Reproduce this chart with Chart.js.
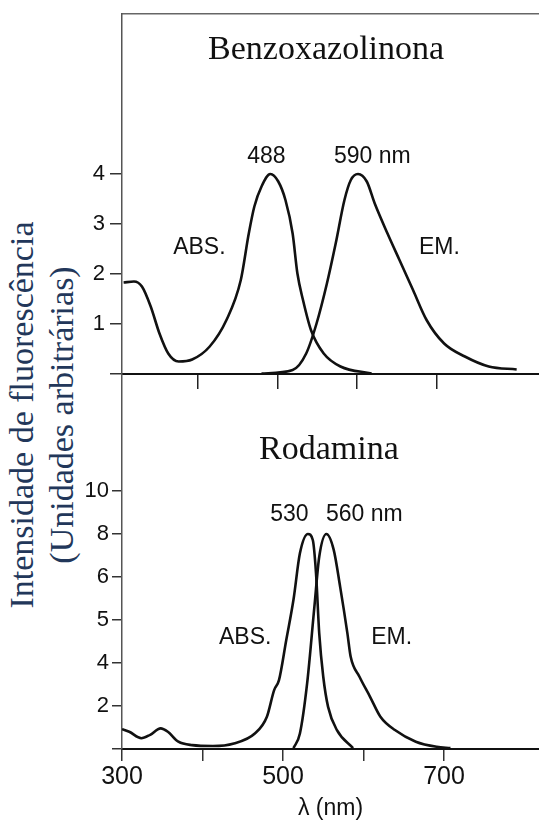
<!DOCTYPE html>
<html>
<head>
<meta charset="utf-8">
<script src="https://cdn.jsdelivr.net/npm/chart.js@4"></script>
<style>
  body { margin: 0; background: #fff; }
  #pagina { position: relative; width: 539px; height: 820px; overflow: hidden; }
  .caixa { position: absolute; left: 0; width: 539px; }
  #caixaBenzo { top: 0; height: 400px; }
  #caixaRoda { top: 374px; height: 446px; }
  #tituloY {
    position: absolute; left: -208px; top: 375px; width: 500px; height: 80px;
    transform: rotate(-90deg); text-align: center;
    font: 34px/40px "Liberation Serif", serif; color: #22375a; white-space: nowrap;
  }
</style>
</head>
<body>
<div id="pagina">
  <div id="tituloY">Intensidade de fluorescência<br>(Unidades arbitrárias)</div>
  <div class="caixa" id="caixaBenzo"><canvas id="graficoBenzo"></canvas></div>
  <div class="caixa" id="caixaRoda"><canvas id="graficoRoda"></canvas></div>
</div>
<script>
// Benzoxazolinona - absorção e emissão
const nmAbsBenzo = [307, 320, 330, 341, 352, 363, 376, 393, 415, 436, 454, 464, 471, 480, 491, 501, 510, 519, 525, 532, 542, 558, 579, 618];
const absBenzo   = [1.83, 1.85, 1.75, 1.35, 0.81, 0.41, 0.25, 0.29, 0.55, 1.08, 1.88, 2.81, 3.35, 3.75, 4.0, 3.85, 3.48, 2.81, 2.01, 1.48, 0.88, 0.41, 0.15, 0.01];
const nmEmBenzo  = [480, 519, 536, 549, 562, 573, 584, 592, 601, 612, 622, 638, 653, 670, 687, 709, 735, 765, 800];
const emBenzo    = [0.01, 0.08, 0.41, 1.01, 1.81, 2.61, 3.48, 3.88, 4.0, 3.85, 3.41, 2.81, 2.28, 1.68, 1.08, 0.61, 0.35, 0.15, 0.09];

// Rodamina (eixo y em passos de marca: 2,4,5,6,8,10 como na figura)
const nmAbsRoda = [300, 309, 324, 335, 348, 357, 370, 387, 413, 439, 465, 480, 489, 495, 504, 513, 521, 531, 537, 541, 545, 550, 556, 567, 587];
const absRoda   = [0.46, 0.40, 0.25, 0.33, 0.48, 0.40, 0.17, 0.09, 0.07, 0.13, 0.36, 0.75, 1.37, 1.60, 2.53, 3.47, 4.55, 5.0, 4.86, 4.09, 2.69, 1.68, 0.98, 0.44, 0.02];
const nmEmRoda  = [513, 521, 530, 539, 545, 554, 563, 571, 580, 584, 595, 608, 621, 639, 665, 691, 708];
const emRoda    = [0.02, 0.36, 1.53, 3.31, 4.47, 5.0, 4.63, 3.77, 2.69, 2.15, 1.68, 1.22, 0.75, 0.44, 0.17, 0.05, 0.02];

const marcasYBenzo = [0, 1, 2, 3, 4];
const marcasXBenzo = [400, 500, 600, 700];
const rotulosYRoda = ['2', '4', '5', '6', '8', '10'];
const marcasXRoda  = [300, 400, 500, 600, 700];
const rotulosXRoda = [300, 500, 700];

const SANS = '"Liberation Sans", Arial, sans-serif';
const SERIF = '"Liberation Serif", "Times New Roman", serif';

// textos dentro do grafico, em coordenadas de dados
const textosBenzo = [
  { texto: 'Benzoxazolinona', x: 561, y: 6.48, fonte: '34px ' + SERIF },
  { texto: '488', x: 486, y: 4.34, fonte: '23px ' + SANS },
  { texto: '590 nm', x: 619, y: 4.34, fonte: '23px ' + SANS },
  { texto: 'ABS.', x: 402, y: 2.52, fonte: '23px ' + SANS },
  { texto: 'EM.', x: 703, y: 2.52, fonte: '23px ' + SANS }
];
const textosRoda = [
  { texto: 'Rodamina', x: 557, y: 6.95, fonte: '34px ' + SERIF },
  { texto: '530', x: 508, y: 5.44, fonte: '23px ' + SANS },
  { texto: '560 nm', x: 601, y: 5.44, fonte: '23px ' + SANS },
  { texto: 'ABS.', x: 453, y: 2.60, fonte: '23px ' + SANS },
  { texto: 'EM.', x: 635, y: 2.60, fonte: '23px ' + SANS }
];

function pontos(xs, ys) {
  return xs.map((v, i) => ({ x: v, y: ys[i] }));
}

function pluginTextos(itens) {
  return {
    id: 'textos',
    afterDatasetsDraw(chart) {
      const { ctx, scales } = chart;
      ctx.save();
      ctx.fillStyle = '#111';
      ctx.textAlign = 'center';
      ctx.textBaseline = 'middle';
      itens.forEach(t => {
        ctx.font = t.fonte;
        ctx.fillText(t.texto, scales.x.getPixelForValue(t.x), scales.y.getPixelForValue(t.y));
      });
      ctx.restore();
    }
  };
}

function semPadding(scale) {
  scale.paddingTop = 0;
  scale.paddingBottom = 0;
  scale.paddingLeft = 0;
  scale.paddingRight = 0;
}

function linha(dados) {
  return {
    data: dados,
    borderColor: '#111',
    borderWidth: 2.6,
    pointRadius: 0,
    fill: false,
    cubicInterpolationMode: 'monotone'
  };
}

// painel de cima
new Chart(document.getElementById('graficoBenzo'), {
  type: 'line',
  data: {
    datasets: [linha(pontos(nmAbsBenzo, absBenzo)), linha(pontos(nmEmBenzo, emBenzo))]
  },
  options: {
    responsive: true,
    maintainAspectRatio: false,
    animation: false,
    layout: { padding: 0 },
    plugins: { legend: { display: false }, tooltip: { enabled: false } },
    scales: {
      x: {
        type: 'linear', min: 305, max: 828,
        border: { display: true, color: '#111', width: 2 },
        grid: { drawOnChartArea: false, tickLength: 15, color: '#222', lineWidth: 1.5 },
        ticks: { display: false },
        afterBuildTicks: ax => { ax.ticks = marcasXBenzo.map(v => ({ value: v })); },
        afterFit: ax => { ax.height = 26; semPadding(ax); }
      },
      xTopo: {
        type: 'linear', position: 'top',
        border: { display: true, color: '#666', width: 1.5 },
        grid: { display: false },
        ticks: { display: false },
        afterFit: ax => { ax.height = 14; semPadding(ax); }
      },
      y: {
        min: 0, max: 7.2,
        border: { display: true, color: '#555', width: 1.5 },
        grid: { drawOnChartArea: false, tickLength: 12, color: '#333', lineWidth: 1.5 },
        ticks: {
          autoSkip: false, padding: 5, color: '#111',
          font: { family: SANS, size: 22 },
          callback: v => v === 0 ? '' : String(v)
        },
        afterBuildTicks: ax => { ax.ticks = marcasYBenzo.map(v => ({ value: v })); },
        afterFit: ax => { ax.width = 122; semPadding(ax); }
      }
    }
  },
  plugins: [pluginTextos(textosBenzo)]
});

// painel de baixo
new Chart(document.getElementById('graficoRoda'), {
  type: 'line',
  data: {
    datasets: [linha(pontos(nmAbsRoda, absRoda)), linha(pontos(nmEmRoda, emRoda))]
  },
  options: {
    responsive: true,
    maintainAspectRatio: false,
    animation: false,
    layout: { padding: 0 },
    plugins: { legend: { display: false }, tooltip: { enabled: false } },
    scales: {
      x: {
        type: 'linear', min: 300, max: 818,
        border: { display: true, color: '#111', width: 2 },
        grid: { drawOnChartArea: false, tickLength: 12, color: '#333', lineWidth: 1.5 },
        ticks: {
          autoSkip: false, maxRotation: 0, padding: 1, color: '#111',
          font: { family: SANS, size: 25 },
          callback: v => rotulosXRoda.includes(v) ? String(v) : ''
        },
        title: {
          display: true, text: 'λ (nm)', color: '#111',
          font: { family: SANS, size: 23, lineHeight: 1 },
          padding: { top: 0, bottom: 0 }
        },
        afterBuildTicks: ax => { ax.ticks = marcasXRoda.map(v => ({ value: v })); },
        afterFit: ax => { ax.height = 71; semPadding(ax); }
      },
      y: {
        min: 0, max: 8.72,
        border: { display: true, color: '#555', width: 1.5 },
        grid: { drawOnChartArea: false, tickLength: 10, color: '#333', lineWidth: 1.5 },
        ticks: {
          autoSkip: false, padding: 3, color: '#111',
          font: { family: SANS, size: 22 },
          callback: v => v === 0 ? '' : rotulosYRoda[v - 1]
        },
        afterBuildTicks: ax => { ax.ticks = [0, 1, 2, 3, 4, 5, 6].map(v => ({ value: v })); },
        afterFit: ax => { ax.width = 122; semPadding(ax); }
      }
    }
  },
  plugins: [pluginTextos(textosRoda)]
});
</script>
</body>
</html>
